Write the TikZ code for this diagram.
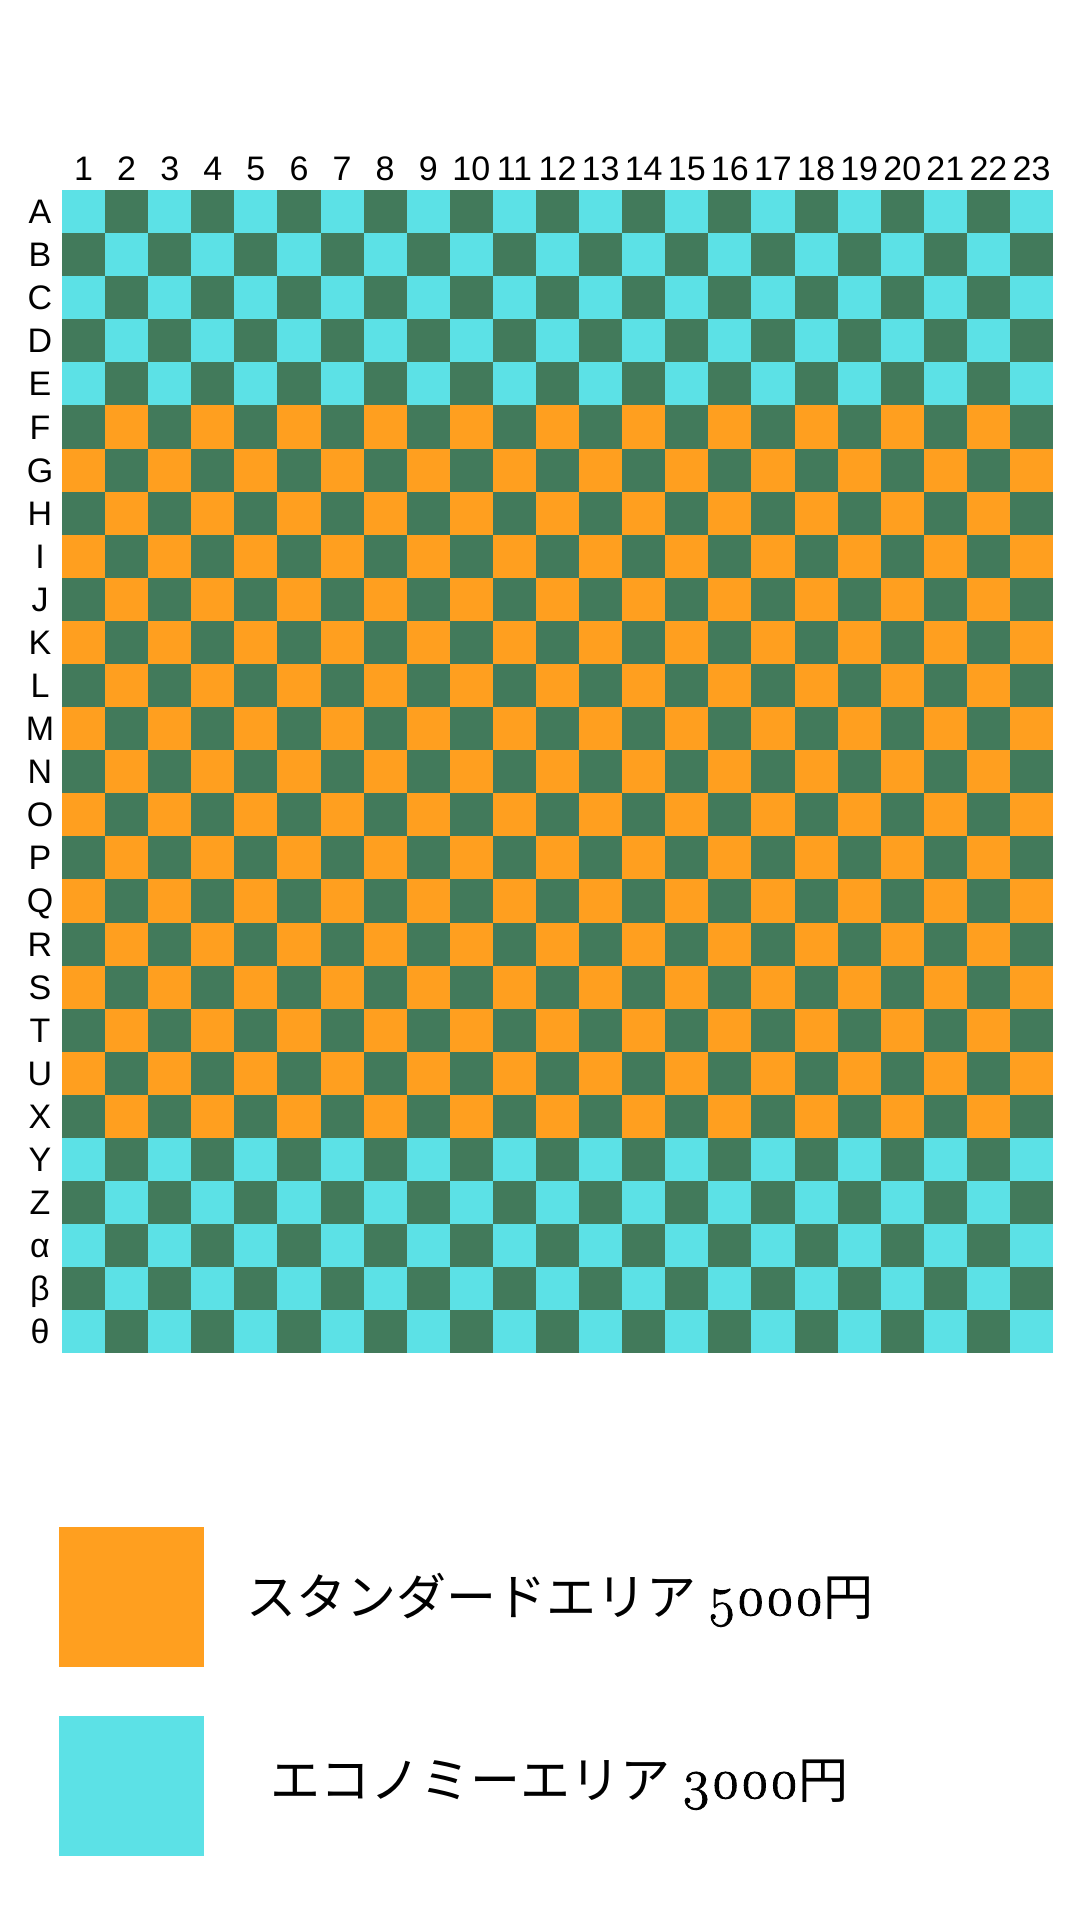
\documentclass[tikz,border=0pt]{standalone}
\usepackage{fontspec}
\setmainfont{Liberation Sans}
\newfontfamily\cjk{Noto Sans CJK JP}
\newfontfamily\osf[Numbers=OldStyle,FakeBold=1.6]{Latin Modern Roman}
\definecolor{cy}{HTML}{5CE1E6}
\definecolor{gr}{HTML}{427A5B}
\definecolor{og}{HTML}{FF9F1F}
\tikzset{
  lbl/.style={font=\fontsize{34}{36}\selectfont, inner sep=0pt, anchor=base, text=black},
  legtext/.style={inner sep=0pt, anchor=base west, text=black}
}
\newcommand{\legfont}{\fontsize{50}{54}\selectfont}
\newcommand{\digfont}{\fontsize{56}{60}\selectfont}
\begin{document}
\begin{tikzpicture}[x=1pt,y=-1pt]
\useasboundingbox (0,0) rectangle (1080,1920);
\fill[white] (0,0) rectangle (1080,1920);
% grid
\foreach \r in {0,...,26}{
  \ifnum\r<5 \def\lc{cy}\else\ifnum\r>21 \def\lc{cy}\else\def\lc{og}\fi\fi
  \foreach \c in {0,...,22}{
    \pgfmathtruncatemacro\odd{mod(\r+\c,2)}
    \ifnum\odd=1 \def\cc{gr}\else\edef\cc{\lc}\fi
    \fill[\cc] (62+\c*43.09, 190+\r*43.09) rectangle ++(43.09,43.09);
  }
}
% column labels
\foreach \c in {1,...,23}{
  \node[lbl] (col\c) at (62+\c*43.09-21.545, 180) {\c};
}
% row labels
\foreach \t [count=\i from 0] in {A,B,C,D,E,F,G,H,I,J,K,L,M,N,O,P,Q,R,S,T,U,X,Y,Z,α,β,θ}{
  \node[lbl] (row\i) at (40, 190+\i*43.09+21.545+12) {\t};
}
% legend
\fill[og] (59,1527) rectangle (204,1667);
\fill[cy] (59,1716) rectangle (204,1856);
\node[legtext] (std) at (246,1615) {{\cjk\legfont スタンダードエリア}\hspace{11pt}{\osf\digfont 5000}{\cjk\legfont 円}};
\node[legtext] (eco) at (270,1798) {{\cjk\legfont エコノミーエリア}\hspace{11pt}{\osf\digfont 3000}{\cjk\legfont 円}};
\end{tikzpicture}
\end{document}
